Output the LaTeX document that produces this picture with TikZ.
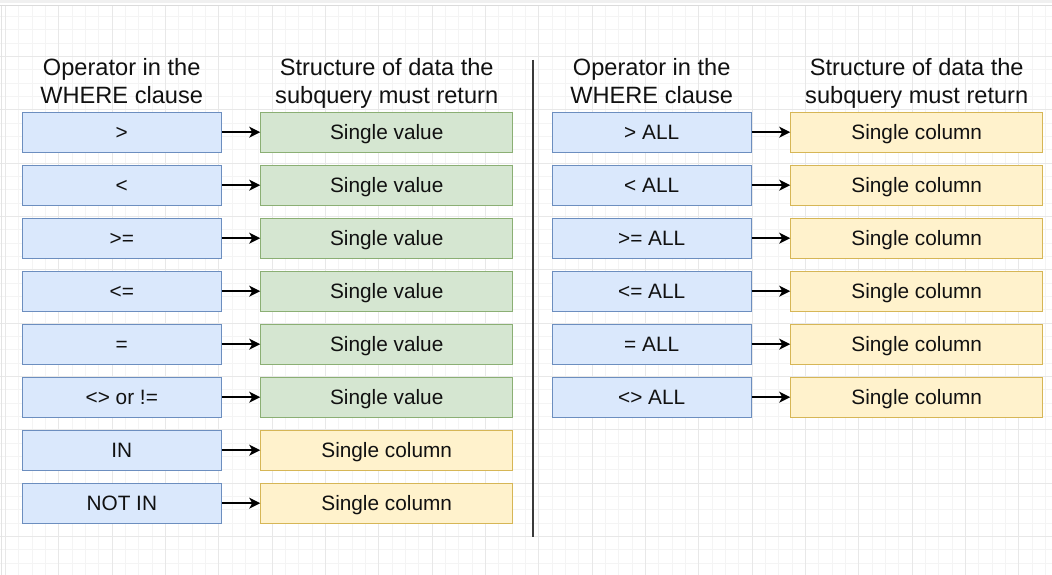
\documentclass[tikz,border=0pt]{standalone}
\usepackage{fontspec}
\setmainfont{Liberation Sans}
\usetikzlibrary{arrows.meta}
\definecolor{bfill}{HTML}{DAE8FC}
\definecolor{bdraw}{HTML}{6C8EBF}
\definecolor{gfill}{HTML}{D5E6D1}
\definecolor{gdraw}{HTML}{8BAF74}
\definecolor{yfill}{HTML}{FFF2CC}
\definecolor{ydraw}{HTML}{D6B656}
\definecolor{minorgrid}{HTML}{F4F4F4}
\definecolor{majorgrid}{HTML}{E8E8E8}
\definecolor{txt}{HTML}{111111}
\definecolor{divider}{HTML}{3A3A3A}
\begin{document}
\begin{tikzpicture}[x=1pt,y=-1pt,
  box/.style={draw, line width=1pt, minimum height=40pt, inner sep=0pt,
    text height=14.7pt, text depth=0pt, text=txt,
    font=\fontsize{20.8}{24}\selectfont},
  opbox/.style={box, fill=bfill, draw=bdraw, minimum width=199pt},
  valbox/.style={box, fill=gfill, draw=gdraw, minimum width=252pt},
  colbox/.style={box, fill=yfill, draw=ydraw, minimum width=252pt},
  header/.style={align=center, anchor=north, inner sep=0pt, text=txt,
    font=\fontsize{23.6}{27.5}\selectfont},
  arr/.style={-{Stealth[length=11pt,width=11pt,inset=3pt]}, line width=1.5pt, draw=black},
  minorline/.style={draw=minorgrid, line width=0.8pt},
  majorline/.style={draw=majorgrid, line width=0.9pt}
]
\useasboundingbox (0,0) rectangle (1052,575);
\fill[white] (0,0) rectangle (1052,575);
% grid
\foreach \k in {0,...,78} \draw[minorline] ({5.5+13.333*\k},6) -- ({5.5+13.333*\k},575);
\foreach \k in {1,...,43} \draw[minorline] (0,{3+13.333*\k}) -- (1052,{3+13.333*\k});
\foreach \k in {0,...,19} \draw[majorline] ({5.5+53.333*\k},6) -- ({5.5+53.333*\k},575);
\foreach \k in {1,...,10} \draw[majorline] (0,{3+53.333*\k}) -- (1052,{3+53.333*\k});
% frame
\fill[gray!12] (0,0) rectangle (1052,3);
\draw[gray!28, line width=1pt] (0,6) -- (1052,6);
\draw[gray!22, line width=1pt] (1.5,6) -- (1.5,575);
% headers
\node[header] (hl1) at (121.7,58.5) {Operator in the\\WHERE clause};
\node[header] (hl2) at (386.7,58.5) {Structure of data the\\subquery must return};
\node[header] (hr1) at (651.7,58.5) {Operator in the\\WHERE clause};
\node[header] (hr2) at (916.7,58.5) {Structure of data the\\subquery must return};
% divider
\coordinate (dtop) at (533.3,60);
\coordinate (dbot) at (533.3,536.5);
\draw[divider, line width=2pt] (dtop) -- (dbot);
% left panel
\foreach \i/\op/\kind/\res in {0/>/valbox/Single value, 1/</valbox/Single value,
  2/>=/valbox/Single value, 3/<=/valbox/Single value, 4/=/valbox/Single value,
  5/<> or !=/valbox/Single value, 6/IN/colbox/Single column, 7/NOT IN/colbox/Single column}{
  \node[opbox] (lo\i) at (121.8,{132.2+53*\i}) {\op};
  \node[\kind] (lr\i) at (386.7,{132.2+53*\i}) {\res};
  \draw[arr] (lo\i) -- (lr\i);
}
% right panel
\foreach \i/\op in {0/> ALL, 1/< ALL, 2/>= ALL, 3/<= ALL, 4/= ALL, 5/<> ALL}{
  \node[opbox] (ro\i) at (651.7,{132.2+53*\i}) {\op};
  \node[colbox] (rr\i) at (916.7,{132.2+53*\i}) {Single column};
  \draw[arr] (ro\i) -- (rr\i);
}
\end{tikzpicture}
\end{document}
